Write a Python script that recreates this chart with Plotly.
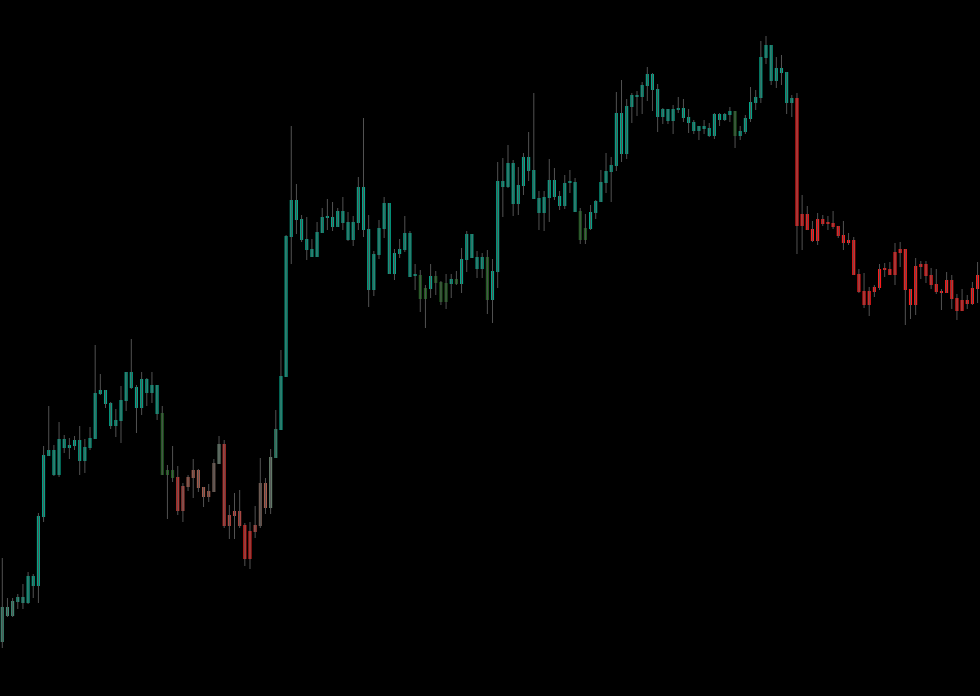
import numpy as np
import plotly.graph_objects as go

# OHLC values (arbitrary price units)
open_ = [58, 93, 84, 98, 103, 97, 124, 114, 183, 244,
         250, 225, 261, 252, 254, 260, 239, 252, 261, 306,
         310, 297, 274, 279, 299, 328, 313, 292, 321, 307,
         315, 287, 225, 230, 223, 189, 213, 222, 230, 213,
         203, 208, 236, 256, 174, 184, 189, 175, 141, 168,
         174, 217, 192, 242, 270, 323, 463, 500, 481, 461,
         451, 443, 467, 483, 483, 473, 489, 478, 460, 477,
         513, 471, 410, 445, 471, 497, 426, 446, 450, 467,
         424, 425, 401, 411, 424, 418, 398, 416, 421, 416,
         440, 466, 443, 431, 443, 400, 428, 519, 513, 537,
         496, 514, 543, 530, 502, 487, 502, 520, 504, 494,
         517, 518, 489, 460, 471, 487, 498, 517, 528, 534,
         587, 546, 593, 605, 603, 614, 626, 611, 583, 591,
         579, 590, 592, 583, 578, 569, 574, 572, 564, 586,
         580, 585, 589, 564, 568, 581, 597, 602, 642, 655,
         619, 632, 628, 597, 602, 474, 486, 471, 459, 481,
         476, 477, 474, 465, 457, 460, 426, 409, 395, 408,
         412, 431, 431, 425, 447, 451, 411, 395, 433, 436,
         425, 416, 409, 407, 420, 402, 389, 400, 396, 411]
high = [142, 102, 102, 106, 116, 128, 126, 187, 254, 294,
        255, 278, 265, 262, 264, 274, 261, 273, 355, 326,
        310, 298, 291, 314, 328, 361, 315, 328, 322, 328,
        315, 294, 235, 254, 234, 217, 225, 241, 231, 213,
        216, 241, 264, 260, 195, 207, 210, 177, 178, 194,
        242, 222, 251, 290, 350, 465, 574, 516, 485, 483,
        461, 478, 492, 501, 498, 492, 503, 488, 484, 523,
        582, 485, 449, 480, 503, 497, 451, 461, 484, 469,
        436, 430, 415, 436, 429, 419, 426, 426, 429, 452,
        469, 466, 449, 447, 450, 441, 538, 542, 555, 540,
        533, 547, 568, 607, 509, 509, 541, 532, 509, 525,
        530, 522, 492, 486, 495, 500, 530, 547, 543, 608,
        620, 601, 607, 609, 618, 633, 627, 616, 592, 591,
        595, 603, 601, 591, 580, 574, 580, 577, 587, 587,
        587, 593, 589, 574, 585, 613, 610, 659, 664, 655,
        643, 645, 628, 605, 607, 505, 494, 479, 487, 485,
        484, 489, 474, 479, 467, 463, 431, 427, 413, 415,
        436, 437, 438, 457, 458, 451, 411, 442, 439, 439,
        432, 431, 411, 428, 425, 406, 411, 405, 418, 438]
low = [52, 83, 83, 91, 91, 96, 102, 97, 178, 244,
       224, 223, 247, 241, 250, 225, 227, 250, 261, 305,
       292, 271, 263, 257, 289, 311, 267, 285, 294, 297,
       280, 225, 181, 218, 185, 178, 209, 202, 208, 193,
       198, 208, 236, 172, 161, 161, 172, 134, 131, 162,
       172, 186, 186, 242, 270, 323, 436, 466, 458, 440,
       443, 443, 467, 470, 469, 473, 470, 459, 454, 470,
       463, 393, 404, 441, 462, 426, 420, 442, 448, 423,
       410, 388, 372, 402, 405, 395, 391, 402, 415, 407,
       428, 442, 422, 422, 386, 377, 412, 483, 512, 484,
       485, 505, 519, 501, 470, 469, 478, 500, 490, 491,
       507, 488, 456, 456, 470, 481, 498, 507, 498, 529,
       538, 541, 577, 584, 586, 599, 589, 568, 576, 576,
       566, 587, 578, 567, 566, 560, 566, 563, 561, 574,
       579, 578, 552, 560, 566, 578, 590, 597, 636, 615,
       612, 615, 586, 583, 446, 450, 470, 458, 455, 474,
       470, 471, 462, 450, 455, 425, 407, 392, 384, 403,
       410, 423, 425, 415, 433, 375, 381, 385, 421, 417,
       411, 406, 390, 407, 391, 380, 389, 391, 395, 397]
close = [93, 84, 99, 103, 97, 124, 114, 184, 245, 250,
         225, 261, 252, 255, 260, 239, 253, 262, 307, 310,
         296, 274, 280, 300, 328, 312, 292, 321, 307, 315,
         286, 225, 230, 222, 189, 214, 223, 230, 212, 203,
         209, 237, 256, 174, 185, 189, 174, 141, 169, 175,
         217, 192, 243, 271, 324, 464, 500, 480, 460, 450,
         443, 468, 483, 482, 473, 489, 477, 460, 478, 513,
         470, 410, 446, 472, 497, 426, 447, 451, 467, 423,
         425, 401, 412, 424, 417, 398, 417, 421, 416, 441,
         466, 442, 431, 443, 400, 429, 519, 513, 537, 496,
         515, 543, 529, 501, 487, 503, 520, 503, 494, 517,
         518, 488, 460, 472, 488, 499, 518, 529, 535, 587,
         546, 594, 605, 603, 615, 626, 610, 583, 591, 579,
         591, 592, 582, 577, 569, 574, 571, 564, 586, 580,
         586, 589, 564, 569, 582, 598, 603, 643, 655, 619,
         632, 627, 597, 602, 474, 486, 470, 459, 481, 476,
         477, 473, 464, 457, 460, 425, 408, 395, 409, 413,
         431, 430, 425, 448, 451, 410, 395, 434, 436, 424,
         415, 408, 407, 420, 401, 389, 400, 396, 412, 425]

# per-candle colour category (indicator state)
color_keys = list(
    "aaabbTTTTT" "TTTTTTTTTT" "TTTTTTTTTT" "TGGGRSBBBB" "BWYRSSSXXS"
    "WBYcTTTTTT" "TTTTTTTTTT" "TTTTTTTTTT" "TGGTGGGTGT" "TTTTGTTTTT"
    "TTTTTTTTTT" "TTGGTTTTTT" "TTTTTTTTTT" "TTTTTTTTTT" "TTGTTTTTTT"
    "TTTTFFFFFF" "FFFFFFFFFF" "FFFFFFFFFF" "FFFFFFFFFF"
)
palette = {
    "a": "#3d8a74", "b": "#1d9a80", "c": "#2a8e72", "T": "#03a68a",
    "G": "#1e5c1e", "R": "#cc3530", "S": "#b84740", "B": "#a65a4a",
    "W": "#745d53", "Y": "#66806e", "X": "#e4221e", "F": "#ff1b1b",
}

n = len(close)
idx = np.arange(n)
o = np.array(open_, dtype=float)
c = np.array(close, dtype=float)
base = np.minimum(o, c)
height = np.maximum(np.abs(c - o), 1.2)
colors = [palette[k] for k in color_keys]

wx, wy = [], []
for i in range(n):
    wx += [i, i, None]
    wy += [low[i], high[i], None]

fig = go.Figure()
fig.add_trace(go.Scatter(x=wx, y=wy, mode="lines",
                         line=dict(color="#525252", width=1),
                         hoverinfo="skip", showlegend=False))
fig.add_trace(go.Bar(x=idx, y=height, base=base, width=0.6,
                     marker=dict(color=colors, line=dict(width=0)),
                     showlegend=False, hoverinfo="skip"))

fig.update_layout(
    width=980, height=696,
    margin=dict(l=0, r=0, t=0, b=0),
    paper_bgcolor="#000000", plot_bgcolor="#000000",
    showlegend=False,
    xaxis=dict(range=[-0.446, 189.47], visible=False, showgrid=False, zeroline=False),
    yaxis=dict(range=[4, 700], visible=False, showgrid=False, zeroline=False),
)

fig.write_html(
    "out.html",
    config={"displayModeBar": False},
    post_script="document.body.style.margin='0';document.body.style.background='#000';",
)
